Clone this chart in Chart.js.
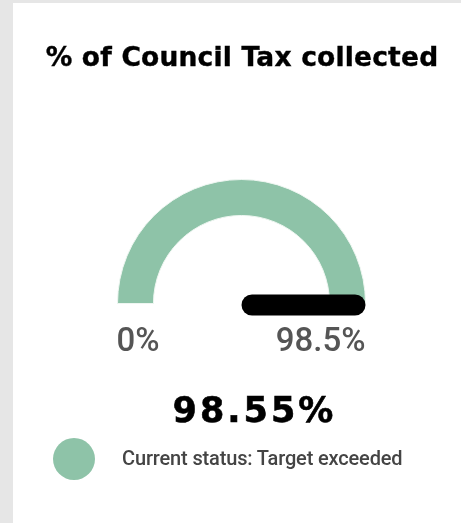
<!DOCTYPE html>
<html>
<head>
<meta charset="utf-8">
<script src="https://cdn.jsdelivr.net/npm/chart.js@4/dist/chart.umd.min.js"></script>
<style>
  html, body { margin: 0; padding: 0; }
  body { width: 461px; height: 523px; background: #e6e6e6; position: relative; overflow: hidden; }
  .card { position: absolute; left: 13px; top: 3px; right: 0; bottom: 0; background: #fff; }
  #gauge { position: absolute; left: 0; top: 0; }
  .title { position: absolute; left: 0; width: 484px; top: 44px; text-align: center;
    font: bold 26.5px/26.5px "DejaVu Sans", Verdana, sans-serif; letter-spacing: 0.2px; color: #000; white-space: nowrap;
    -webkit-text-stroke: 0.4px #000; }
  .value { position: absolute; left: 2px; width: 505px; top: 393px; text-align: center;
    font: bold 35px/35px "DejaVu Sans", Verdana, sans-serif; letter-spacing: 3px; color: #000; white-space: nowrap;
    -webkit-text-stroke: 0.6px #000; }
  .dot { position: absolute; left: 53px; top: 438px; width: 42px; height: 42px; border-radius: 50%; }
  .status { position: absolute; left: 122px; top: 448px; font: 500 20px/20px Roboto, sans-serif;
    letter-spacing: -0.15px; color: #444; white-space: nowrap; }
</style>
</head>
<body>
<div class="card"></div>
<canvas id="gauge" width="461" height="523"></canvas>
<div class="title" id="title"></div>
<div class="value" id="value"></div>
<div class="dot" id="dot"></div>
<div class="status" id="status"></div>
<script>
const chartTitle = ['% of Council Tax collected'];
const categories = ['Collected', 'Remaining'];
const gaugeRange = [0, 98.5];        // min, target
const currentValue = [98.55];
const tickLabels = ['0%', '98.5%'];
const statusLabels = ['Current status: Target exceeded'];
const sliceColors = ['#8ec3a8', '#e4e4e4'];

const lo = gaugeRange[0], hi = gaugeRange[1];
const shown = Math.min(Math.max(currentValue[0], lo), hi);

document.getElementById('title').textContent = chartTitle[0];
document.getElementById('value').textContent = currentValue[0].toFixed(2) + '%';
document.getElementById('status').textContent = statusLabels[0];
document.getElementById('dot').style.background = sliceColors[0];

// needle + end labels, placed from the arc the chart drew
const gaugeExtras = {
    id: 'gaugeExtras',
    afterDatasetsDraw(chart) {
        const arc = chart.getDatasetMeta(0).data[0];
        const ctx = chart.ctx;
        const cx = arc.x, cy = arc.y, r = arc.outerRadius;
        const frac = (currentValue[0] - lo) / (hi - lo);
        const angle = Math.PI + Math.PI * Math.min(Math.max(frac, 0), 1);
        const w = 21;

        ctx.save();
        ctx.lineCap = 'round';
        ctx.lineWidth = w;
        ctx.strokeStyle = '#000';
        ctx.beginPath();
        ctx.moveTo(cx + Math.cos(angle) * w / 2, cy + 1.5 + Math.sin(angle) * w / 2);
        ctx.lineTo(cx + Math.cos(angle) * (r - w / 2), cy + 1.5 + Math.sin(angle) * (r - w / 2));
        ctx.stroke();

        ctx.font = '500 33px Roboto, sans-serif';
        ctx.fillStyle = '#555';
        ctx.textBaseline = 'alphabetic';
        ctx.textAlign = 'left';
        ctx.fillText(tickLabels[0], cx - r - 1, cy + 47);
        ctx.textAlign = 'right';
        ctx.fillText(tickLabels[1], cx + r, cy + 47);
        ctx.restore();
    }
};

new Chart(document.getElementById('gauge').getContext('2d'), {
    type: 'doughnut',
    data: {
        labels: categories,
        datasets: [{
            data: [shown - lo, hi - shown],
            backgroundColor: sliceColors,
            borderColor: '#eef6f1',
            borderWidth: 1
        }]
    },
    options: {
        responsive: false,
        animation: false,
        rotation: -90,
        circumference: 180,
        cutout: '71%',
        layout: { padding: { left: 116, right: 94, top: 179, bottom: 219 } },
        plugins: {
            legend: { display: false },
            tooltip: { enabled: false }
        }
    },
    plugins: [gaugeExtras]
});
</script>
</body>
</html>
